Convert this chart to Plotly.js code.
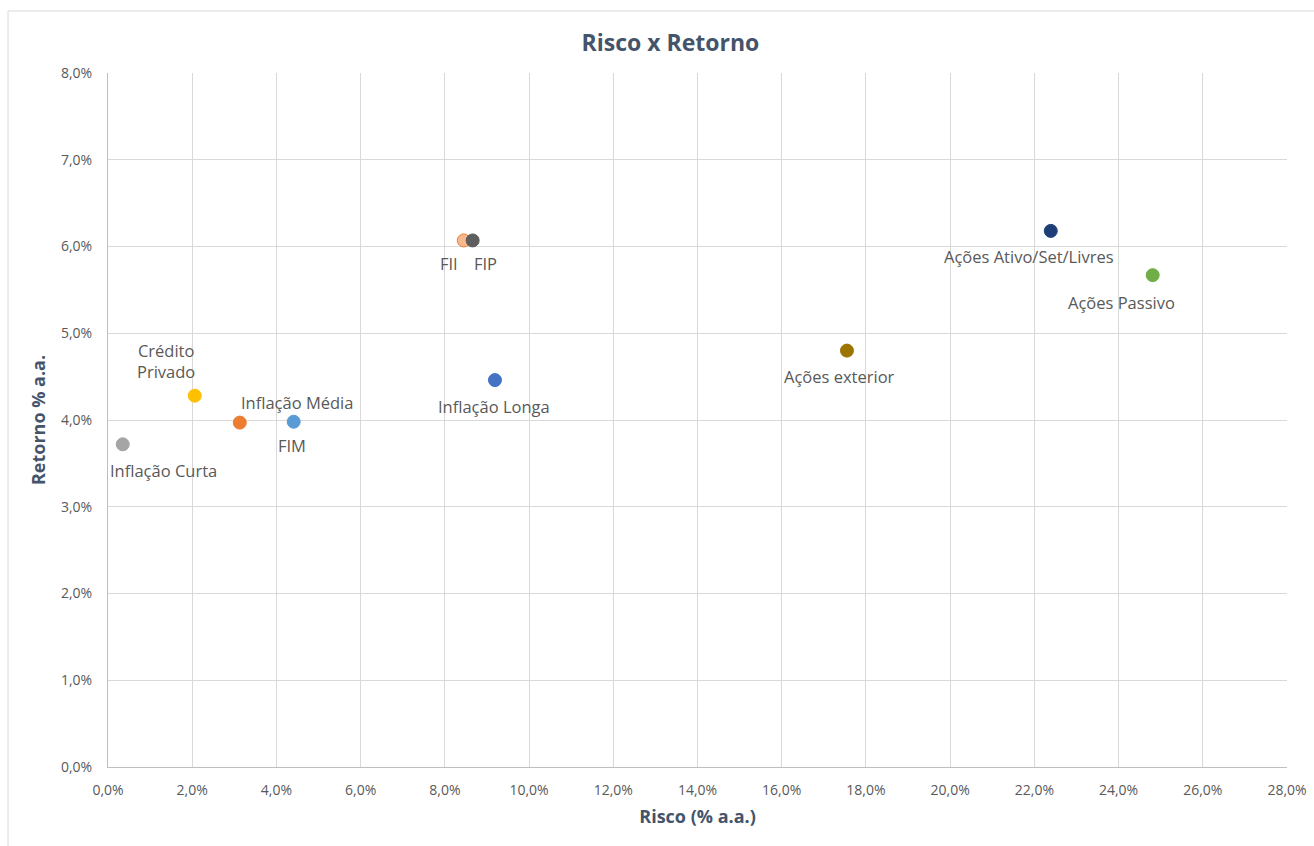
<!DOCTYPE html>
<html>
<head>
<meta charset="utf-8">
<script src="https://cdn.plot.ly/plotly-3.0.1.min.js"></script>
<style>html,body{margin:0;padding:0;background:#fff;}#chart{width:1314px;height:846px;}</style>
</head>
<body>
<div id="chart"></div>
<script>
// Data (percent values)
const names = ["Inflação Curta", "Crédito Privado", "Inflação Média", "FIM", "FII", "FIP", "Inflação Longa", "Ações exterior", "Ações Ativo/Set/Livres", "Ações Passivo"];
const risco = [0.35, 2.06, 3.13, 4.41, 8.45, 8.66, 9.19, 17.55, 22.39, 24.81];
const retorno = [3.72, 4.28, 3.97, 3.98, 6.07, 6.07, 4.46, 4.80, 6.18, 5.67];
const labelText = ["Inflação Curta", "Crédito<br>Privado", "Inflação Média", "FIM", "FII", "FIP", "Inflação Longa", "Ações exterior", "Ações Ativo/Set/Livres", "Ações Passivo"];

// Styles
const fillColors = ["#A5A5A5", "#FFC000", "#ED7D31", "#5B9BD5", "#F8B98E", "#5E5E5E", "#4472C4", "#9C7500", "#1F3E78", "#70AD47"];
const lineColors = ["#A5A5A5", "#FFC000", "#ED7D31", "#5B9BD5", "#ED7D31", "#5E5E5E", "#4472C4", "#9C7500", "#1F3E78", "#70AD47"];
const labelShiftX = [41, -29, 57, -2, -15, 13, -1, -7, -22, -31];
const labelShiftY = [-26, 35, 20, -24, -23, -23, -26, -26, -26, -27];

const traces = names.map((n, i) => ({
  type: "scatter", mode: "markers", name: n,
  x: [risco[i]], y: [retorno[i]],
  marker: {size: 13, color: fillColors[i], line: {color: lineColors[i], width: 1}},
  hoverinfo: "x+y+name"
}));

const annotations = names.map((n, i) => ({
  x: risco[i], y: retorno[i], xref: "x", yref: "y",
  text: labelText[i], showarrow: false,
  xshift: labelShiftX[i], yshift: labelShiftY[i],
  font: {family: "Open Sans, Noto Sans, sans-serif", size: 16.5, color: "#595959"},
  align: "center"
}));

const layout = {
  width: 1314, height: 846,
  margin: {l: 108, r: 27, t: 73, b: 79},
  paper_bgcolor: "#ffffff", plot_bgcolor: "#ffffff",
  showlegend: false,
  separators: ",.",
  title: {text: "<b>Risco x Retorno</b>", x: 0.477, xref: "paper", xanchor: "center",
    y: 0.949, yref: "container", yanchor: "middle",
    font: {family: "Open Sans, sans-serif", size: 23, color: "#44546A"}},
  font: {family: "Open Sans, sans-serif", color: "#595959"},
  xaxis: {
    range: [0, 28], dtick: 2, tick0: 0, tickformat: ".1f", ticksuffix: "%",
    showgrid: true, gridcolor: "#D9D9D9", gridwidth: 1,
    showline: true, linecolor: "#BFBFBF", linewidth: 1, zeroline: false,
    ticks: "", ticklabelstandoff: 10, tickfont: {size: 14, color: "#595959"},
    title: {text: "<b>Risco (% a.a.)</b>", font: {size: 18, color: "#44546A"}, standoff: 12}
  },
  yaxis: {
    range: [0, 8], dtick: 1, tick0: 0, tickformat: ".1f", ticksuffix: "%",
    showgrid: true, gridcolor: "#D9D9D9", gridwidth: 1,
    showline: true, linecolor: "#BFBFBF", linewidth: 1, zeroline: false,
    ticks: "", ticklabelstandoff: 12, tickfont: {size: 14, color: "#595959"},
    title: {text: "<b>Retorno % a.a.</b>", font: {size: 18, color: "#44546A"}, standoff: 10}
  },
  annotations: annotations,
  shapes: [{
    type: "rect", xref: "paper", yref: "paper",
    x0: -0.0848, x1: 1.05, y0: -0.2, y1: 1.0893,
    line: {color: "#D9D9D9", width: 1}, fillcolor: "rgba(0,0,0,0)", layer: "below"
  }]
};

Plotly.newPlot("chart", traces, layout, {displayModeBar: false, staticPlot: true});
</script>
</body>
</html>
